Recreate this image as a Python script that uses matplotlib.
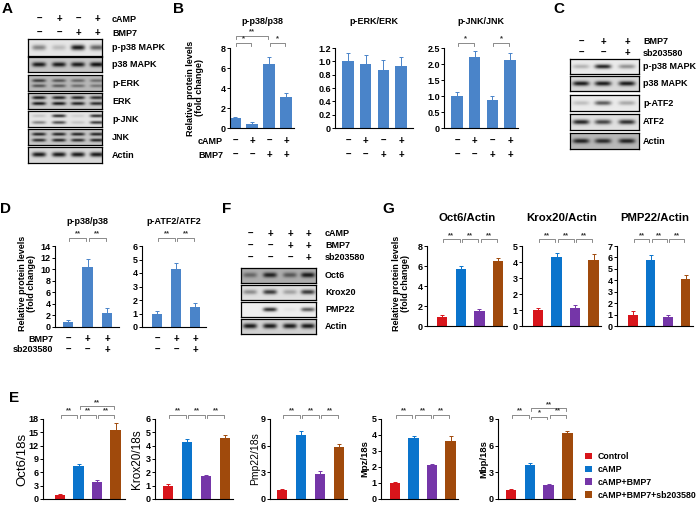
import numpy as np
import matplotlib
matplotlib.use("Agg")
import matplotlib.pyplot as plt
from matplotlib.patches import Patch
from matplotlib.transforms import blended_transform_factory

plt.rcParams["font.family"] = ["Liberation Sans", "DejaVu Sans"]
plt.rcParams["font.weight"] = "bold"
plt.rcParams["axes.linewidth"] = 0.8

W, H = 700, 505

# ---------------------------------------------------------------------------
# Data
# ---------------------------------------------------------------------------
GROUPS = ["Control", "cAMP", "cAMP+BMP7", "cAMP+BMP7+sb203580"]
GROUP_COLORS = ["#d8151b", "#0a74cc", "#7536a8", "#a04a0c"]
BAR_BLUE = "#4a84c9"

# western blot band intensities (0 = no band, 1 = saturated)
A_LANES_CAMP = ["–", "+", "–", "+"]
A_LANES_BMP7 = ["–", "–", "+", "+"]
A_ROWS = ["p-p38 MAPK", "p38 MAPK", "p-ERK", "ERK", "p-JNK", "JNK", "Actin"]
A_PP38 = [0.45, 0.2, 0.95, 0.6]
A_P38 = [0.95, 0.95, 0.95, 1.0]
A_PERK_TOP = [0.75, 0.6, 0.5, 0.45]
A_PERK_BOT = [0.6, 0.55, 0.45, 0.4]
A_ERK_TOP = [0.95, 0.9, 0.9, 0.85]
A_ERK_BOT = [0.95, 0.95, 0.9, 0.85]
A_PJNK_TOP = [0.15, 0.85, 0.1, 0.85]
A_PJNK_BOT = [0.45, 0.7, 0.15, 0.8]
A_JNK_TOP = [0.9, 0.9, 0.9, 0.9]
A_JNK_BOT = [0.85, 0.9, 0.85, 0.9]
A_ACTIN = [0.95, 0.95, 0.95, 0.95]

C_LANES_BMP7 = ["–", "+", "+"]
C_LANES_SB = ["–", "–", "+"]
C_ROWS = ["p-p38 MAPK", "p38 MAPK", "p-ATF2", "ATF2", "Actin"]
C_PP38 = [0.25, 0.9, 0.4]
C_P38 = [0.95, 0.95, 0.95]
C_PATF2 = [0.2, 0.65, 0.3]
C_ATF2 = [0.9, 0.75, 0.85]
C_ACTIN = [0.9, 0.85, 0.9]

F_LANES_CAMP = ["–", "+", "+", "+"]
F_LANES_BMP7 = ["–", "–", "+", "+"]
F_LANES_SB = ["–", "–", "–", "+"]
F_ROWS = ["Oct6", "Krox20", "PMP22", "Actin"]
F_OCT6 = [0.45, 0.9, 0.55, 0.95]
F_KROX20 = [0.4, 0.8, 0.3, 0.8]
F_PMP22 = [0.0, 0.85, 0.05, 0.65]
F_ACTIN = [0.95, 0.95, 0.95, 0.95]

# panel B: quantification
B_PP38 = [1.0, 0.45, 6.45, 3.1]
B_PP38_ERR = [0.15, 0.15, 0.7, 0.45]
B_PERK = [1.0, 0.96, 0.87, 0.93]
B_PERK_ERR = [0.13, 0.14, 0.15, 0.13]
B_PJNK = [1.0, 2.22, 0.87, 2.13]
B_PJNK_ERR = [0.12, 0.2, 0.14, 0.2]

# panel D
D_PP38 = [0.9, 10.4, 2.5]
D_PP38_ERR = [0.35, 1.4, 0.7]
D_PATF2 = [1.0, 4.3, 1.5]
D_PATF2_ERR = [0.2, 0.45, 0.3]

# panel G
G_OCT6 = [0.9, 5.75, 1.5, 6.5]
G_OCT6_ERR = [0.2, 0.25, 0.2, 0.3]
G_KROX20 = [1.0, 4.3, 1.15, 4.15]
G_KROX20_ERR = [0.12, 0.25, 0.15, 0.35]
G_PMP22 = [1.0, 5.8, 0.8, 4.15]
G_PMP22_ERR = [0.3, 0.45, 0.2, 0.35]

# panel E: qPCR
E_OCT6 = [1.0, 7.5, 3.8, 15.6]
E_OCT6_ERR = [0.2, 0.4, 0.4, 1.4]
E_KROX20 = [1.0, 4.3, 1.7, 4.6]
E_KROX20_ERR = [0.1, 0.18, 0.12, 0.22]
E_PMP22 = [1.0, 7.2, 2.8, 5.8]
E_PMP22_ERR = [0.1, 0.5, 0.3, 0.35]
E_MPZ = [1.0, 3.8, 2.1, 3.6]
E_MPZ_ERR = [0.05, 0.12, 0.07, 0.35]
E_MBP = [1.0, 3.8, 1.6, 7.4]
E_MBP_ERR = [0.1, 0.2, 0.1, 0.3]

fig = plt.figure(figsize=(W / 100, H / 100), dpi=100)
fig.patch.set_facecolor("white")

YLAB = "Relative protein levels\n(fold change)"


def px_axes(x0, y0, x1, y1):
    return fig.add_axes([x0 / W, 1 - y1 / H, (x1 - x0) / W, (y1 - y0) / H])


def ftext(x, y, s, **kw):
    kw.setdefault("fontsize", 6.5)
    kw.setdefault("va", "center")
    return fig.text(x / W, 1 - y / H, s, **kw)


def sign_rows(xs, rows, ys, label_x):
    for (signs, lab), y in zip(rows, ys):
        for x, s in zip(xs, signs):
            ftext(x, y, s, ha="center", fontsize=7)
        ftext(label_x, y, lab, ha="left")


def blot(x0, y0, x1, y1, lane_xs, bands, bg, sy=0.13):
    ax = px_axes(x0, y0, x1, y1)
    nx, ny = int((x1 - x0) * 4), int((y1 - y0) * 4)
    xs = np.linspace(x0, x1, nx)
    ys = np.linspace(0, 1, ny)
    spacing = (lane_xs[-1] - lane_xs[0]) / max(len(lane_xs) - 1, 1)
    sx = spacing * 0.36
    dark = np.zeros((ny, nx))
    for ypos, ints in bands:
        prof_y = np.exp(-((ys - ypos) / sy) ** 2)[:, None]
        for cx, inten in zip(lane_xs, ints):
            dark += inten * np.exp(-(np.abs(xs - cx) / sx) ** 4)[None, :] * prof_y
    img = bg - np.clip(dark, 0, 1) * (bg - 0.06)
    ax.imshow(img, cmap="gray", vmin=0, vmax=1, aspect="auto",
              interpolation="bilinear", extent=(0, 1, 1, 0))
    ax.set_xticks([])
    ax.set_yticks([])
    for sp in ax.spines.values():
        sp.set_linewidth(0.9)
    return ax


def bar_panel(x_axis, x_end, y_top, y_bot, bar_x0, bar_dx, vals, errs, colors,
              yticks, yticklabels, width=0.6, title=None, title_y=None,
              title_size=6.5):
    ax = px_axes(x_axis, y_top, x_end, y_bot)
    n = len(vals)
    x = np.arange(n)
    ax.bar(x, vals, width=width, color=colors, edgecolor="none", zorder=2)
    for xi, v, e, c in zip(x, vals, errs, colors):
        ax.errorbar(xi, v, yerr=[[0], [e]], fmt="none", ecolor=c,
                    elinewidth=0.7, capsize=1.5, capthick=0.7, zorder=1)
    ax.set_xlim((x_axis - bar_x0) / bar_dx, (x_end - bar_x0) / bar_dx)
    ax.set_ylim(0, yticks[-1])
    ax.set_yticks(yticks)
    ax.set_yticklabels(yticklabels, fontsize=6.5, fontweight="bold")
    ax.set_xticks([])
    ax.spines["top"].set_visible(False)
    ax.spines["right"].set_visible(False)
    ax.tick_params(axis="y", length=2, width=0.7, pad=1)
    if title:
        ftext((x_axis + x_end) / 2, title_y, title, ha="center",
              fontsize=title_size)
    return ax


def sig(ax, i, j, y, label, drop=0.035, gap=0.06, fs=5.5):
    d = drop * ax.get_ylim()[1]
    ax.plot([i + gap, i + gap, j - gap, j - gap], [y - d, y, y, y - d],
            color="#777777", lw=0.6, clip_on=False)
    ax.annotate(label, xy=((i + j) / 2, y), xytext=(0, 0.2),
                textcoords="offset points", ha="center", va="bottom",
                fontsize=fs, color="#333333", annotation_clip=False)


def bar_signs(ax, rows, ys_px):
    tr = blended_transform_factory(ax.transData, fig.transFigure)
    for signs, y in zip(rows, ys_px):
        for xi, s in enumerate(signs):
            ax.text(xi, 1 - y / H, s, transform=tr, ha="center", va="center",
                    fontsize=7, clip_on=False)


# ---------------------------------------------------------------------------
# Panel letters
# ---------------------------------------------------------------------------
for lab, x, y in [("A", 2, 9), ("B", 173, 9), ("C", 553, 9), ("D", 0, 209),
                  ("F", 222, 209), ("G", 382, 209), ("E", 9, 398)]:
    ftext(x, y, lab, fontsize=11, ha="left")

# ---------------------------------------------------------------------------
# Panel A: blots
# ---------------------------------------------------------------------------
a_lanes = [39, 59, 78, 97]
sign_rows(a_lanes, [(A_LANES_CAMP, "cAMP"), (A_LANES_BMP7, "BMP7")], [19, 33],
          label_x=112)
a_rows = [
    (39, 56, [(0.5, A_PP38)], 0.9, 0.16),
    (57, 72, [(0.5, A_P38)], 0.78, 0.16),
    (75, 91, [(0.35, A_PERK_TOP), (0.68, A_PERK_BOT)], 0.72, 0.1),
    (93, 109, [(0.33, A_ERK_TOP), (0.68, A_ERK_BOT)], 0.8, 0.1),
    (111, 127, [(0.3, A_PJNK_TOP), (0.72, A_PJNK_BOT)], 0.9, 0.1),
    (129, 145, [(0.32, A_JNK_TOP), (0.7, A_JNK_BOT)], 0.78, 0.1),
    (147, 163, [(0.5, A_ACTIN)], 0.85, 0.14),
]
for (y0, y1, bands, bg, sy), name in zip(a_rows, A_ROWS):
    blot(28, y0, 102, y1, a_lanes, bands, bg, sy=sy)
    ftext(112, (y0 + y1) / 2, name, ha="left")

# ---------------------------------------------------------------------------
# Panel B: quantification
# ---------------------------------------------------------------------------
camp_bmp = [A_LANES_CAMP, A_LANES_BMP7]
b1 = bar_panel(230, 294, 48, 128, 235, 17, B_PP38, B_PP38_ERR, [BAR_BLUE] * 4,
               [0, 2, 4, 6, 8], ["0", "2", "4", "6", "8"], width=0.65,
               title="p-p38/p38", title_y=22)
sig(b1, 0, 1, 8.5, "*")
sig(b1, 0, 2, 9.2, "**")
sig(b1, 2, 3, 8.5, "*")
bar_signs(b1, camp_bmp, [141, 155])
ftext(223, 141, "cAMP", ha="right")
ftext(223, 155, "BMP7", ha="right")
ftext(195, 88, YLAB, ha="center", rotation=90, linespacing=1.1)

b2 = bar_panel(335, 413, 48, 128, 348, 17.7, B_PERK, B_PERK_ERR, [BAR_BLUE] * 4,
               [0, 0.2, 0.4, 0.6, 0.8, 1.0, 1.2],
               ["0", "0.2", "0.4", "0.6", "0.8", "1.0", "1.2"], width=0.65,
               title="p-ERK/ERK", title_y=22)
bar_signs(b2, camp_bmp, [141, 155])

b3 = bar_panel(444, 518, 48, 128, 457, 17.7, B_PJNK, B_PJNK_ERR, [BAR_BLUE] * 4,
               [0, 0.5, 1.0, 1.5, 2.0, 2.5],
               ["0", "0.5", "1.0", "1.5", "2.0", "2.5"], width=0.65,
               title="p-JNK/JNK", title_y=22)
sig(b3, 0, 1, 2.66, "*")
sig(b3, 2, 3, 2.66, "*")
bar_signs(b3, camp_bmp, [141, 155])

# ---------------------------------------------------------------------------
# Panel C: blots
# ---------------------------------------------------------------------------
c_lanes = [581, 603, 627]
sign_rows(c_lanes, [(C_LANES_BMP7, "BMP7"), (C_LANES_SB, "sb203580")], [42, 53],
          label_x=643)
c_rows = [
    (59, 74, [(0.5, C_PP38)], 0.92, 0.15),
    (76, 91, [(0.5, C_P38)], 0.85, 0.16),
    (95, 111, [(0.5, C_PATF2)], 0.92, 0.14),
    (114, 130, [(0.5, C_ATF2)], 0.88, 0.15),
    (133, 149, [(0.5, C_ACTIN)], 0.72, 0.15),
]
for (y0, y1, bands, bg, sy), name in zip(c_rows, C_ROWS):
    blot(570, y0, 639, y1, c_lanes, bands, bg, sy=sy)
    ftext(643, (y0 + y1) / 2, name, ha="left")

# ---------------------------------------------------------------------------
# Panel D
# ---------------------------------------------------------------------------
bmp_sb = [C_LANES_BMP7, C_LANES_SB]
d1 = bar_panel(55, 119, 246, 327, 68, 19.5, D_PP38, D_PP38_ERR, [BAR_BLUE] * 3,
               list(range(0, 15, 2)), [str(v) for v in range(0, 15, 2)],
               width=0.55, title="p-p38/p38", title_y=222)
sig(d1, 0, 1, 15.4, "**")
sig(d1, 1, 2, 15.4, "**")
bar_signs(d1, bmp_sb, [339, 350])
ftext(53, 339, "BMP7", ha="right")
ftext(53, 350, "sb203580", ha="right")
ftext(27, 283, YLAB, ha="center", rotation=90, linespacing=1.1)

d2 = bar_panel(142, 206, 246, 327, 157, 19, D_PATF2, D_PATF2_ERR, [BAR_BLUE] * 3,
               list(range(0, 7)), [str(v) for v in range(0, 7)],
               width=0.55, title="p-ATF2/ATF2", title_y=222)
sig(d2, 0, 1, 6.6, "**")
sig(d2, 1, 2, 6.6, "**")
bar_signs(d2, bmp_sb, [339, 350])

# ---------------------------------------------------------------------------
# Panel F: blots
# ---------------------------------------------------------------------------
f_lanes = [250, 270, 290, 308]
sign_rows(f_lanes, [(F_LANES_CAMP, "cAMP"), (F_LANES_BMP7, "BMP7"),
                    (F_LANES_SB, "sb203580")], [234, 246, 258], label_x=325)
f_rows = [
    (268, 283, [(0.5, F_OCT6)], 0.68, 0.16),
    (285, 300, [(0.5, F_KROX20)], 0.88, 0.15),
    (302, 317, [(0.5, F_PMP22)], 0.93, 0.14),
    (319, 334, [(0.5, F_ACTIN)], 0.82, 0.16),
]
for (y0, y1, bands, bg, sy), name in zip(f_rows, F_ROWS):
    blot(241, y0, 316, y1, f_lanes, bands, bg, sy=sy)
    ftext(325, (y0 + y1) / 2, name, ha="left")

# ---------------------------------------------------------------------------
# Panel G
# ---------------------------------------------------------------------------
g1 = bar_panel(427, 507, 246, 326, 442, 18.7, G_OCT6, G_OCT6_ERR, GROUP_COLORS,
               [0, 2, 4, 6, 8], ["0", "2", "4", "6", "8"], width=0.55,
               title="Oct6/Actin", title_y=218, title_size=8.2)
g2 = bar_panel(522, 601, 246, 326, 538, 18.5, G_KROX20, G_KROX20_ERR,
               GROUP_COLORS, [0, 1, 2, 3, 4, 5], ["0", "1", "2", "3", "4", "5"],
               width=0.55, title="Krox20/Actin", title_y=218, title_size=8.2)
g3 = bar_panel(617, 693, 246, 326, 633, 17.5, G_PMP22, G_PMP22_ERR,
               GROUP_COLORS, list(range(0, 8)), [str(v) for v in range(0, 8)],
               width=0.55, title="PMP22/Actin", title_y=218, title_size=8.2)
for ax in (g1, g2, g3):
    top = ax.get_ylim()[1]
    for i in range(3):
        sig(ax, i, i + 1, top * 1.087, "**")
ftext(401, 283, YLAB, ha="center", rotation=90, linespacing=1.1)

# ---------------------------------------------------------------------------
# Panel E
# ---------------------------------------------------------------------------
e_specs = [
    (43, 125, 60, 18.5, E_OCT6, E_OCT6_ERR, [0, 3, 6, 9, 12, 15, 18], "Oct6/18s", 9.5, 22, "normal"),
    (155, 233, 168, 19, E_KROX20, E_KROX20_ERR, [0, 1, 2, 3, 4, 5, 6], "Krox20/18s", 8.5, 137, "normal"),
    (270, 347, 282, 19, E_PMP22, E_PMP22_ERR, [0, 3, 6, 9], "Pmp22/18s", 7.5, 255, "normal"),
    (381, 458, 395, 18.5, E_MPZ, E_MPZ_ERR, [0, 1, 2, 3, 4, 5], "Mpz/18s", 6.8, 365, "bold"),
    (498, 575, 511, 18.8, E_MBP, E_MBP_ERR, [0, 3, 6, 9], "Mbp/18s", 6.8, 484, "bold"),
]
e_axes = []
for xa, xe, bx0, bdx, vals, errs, ticks, ylab, fs, lx, fw in e_specs:
    ax = bar_panel(xa, xe, 419, 499, bx0, bdx, vals, errs, GROUP_COLORS,
                   ticks, [str(t) for t in ticks], width=0.55)
    ftext(lx, 459, ylab, ha="center", rotation=90, fontsize=fs, fontweight=fw)
    e_axes.append(ax)
    top = ticks[-1]
    sig(ax, 0, 1, top * 1.05, "**")
    sig(ax, 2, 3, top * 1.05, "**")

sig(e_axes[0], 1, 2, 18 * 1.05, "**")
sig(e_axes[0], 1, 3, 18 * 1.16, "**")
sig(e_axes[1], 1, 2, 6 * 1.05, "**")
sig(e_axes[2], 1, 2, 9 * 1.05, "**")
sig(e_axes[3], 1, 2, 5 * 1.05, "**")
sig(e_axes[4], 1, 2, 9 * 1.03, "*")
sig(e_axes[4], 1, 3, 9 * 1.135, "**")

handles = [Patch(facecolor=c, edgecolor="none") for c in GROUP_COLORS]
fig.legend(handles, GROUPS, loc="upper left",
           bbox_to_anchor=(585 / W, 1 - 452 / H), frameon=False,
           fontsize=6.3, handlelength=0.8, handleheight=0.8,
           handletextpad=0.6, labelspacing=0.45, borderaxespad=0,
           borderpad=0)

fig.savefig("out.png", dpi=100, facecolor="white")
